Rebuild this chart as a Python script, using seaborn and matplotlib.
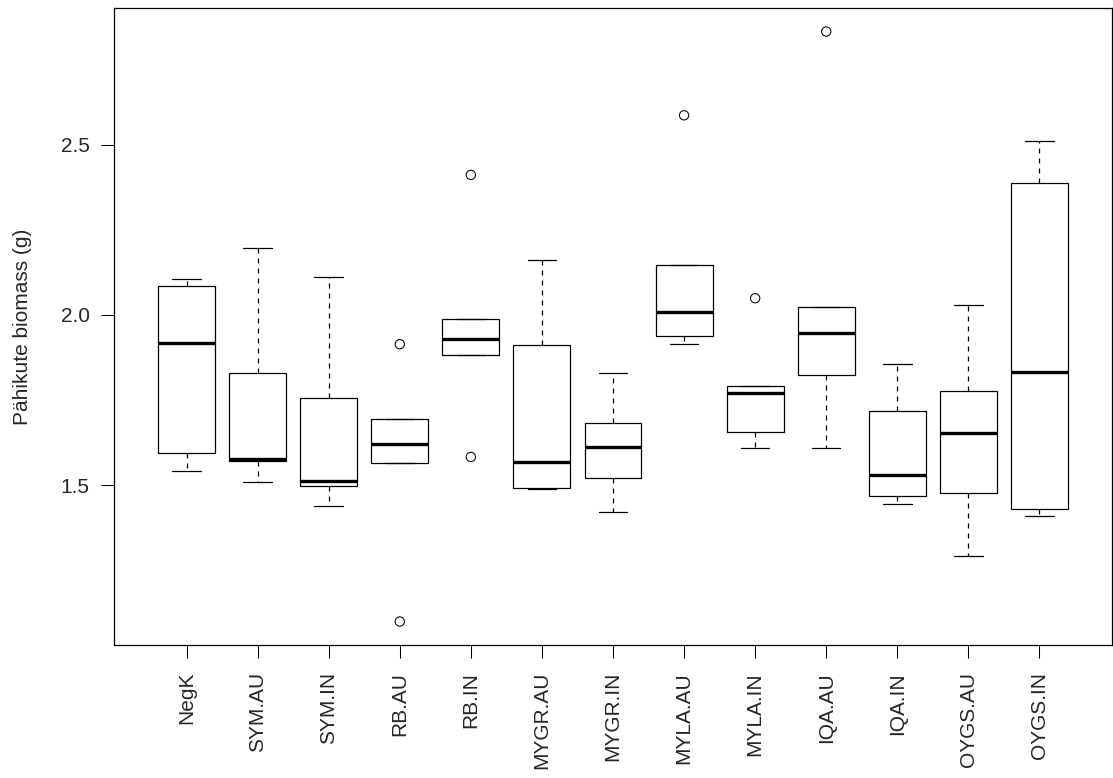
import numpy as np
import pandas as pd
import matplotlib
matplotlib.use("Agg")
import matplotlib.pyplot as plt
import seaborn as sns

# groups in plotting order
groups = ["NegK", "SYM.AU", "SYM.IN", "RB.AU", "RB.IN", "MYGR.AU", "MYGR.IN",
          "MYLA.AU", "MYLA.IN", "IQA.AU", "IQA.IN", "OYGS.AU", "OYGS.IN"]

# five-number summaries (whisker ends, hinges, median)
lower_whisker = [1.542, 1.509, 1.439, 1.566, 1.882, 1.490, 1.422,
                 1.914, 1.608, 1.608, 1.444, 1.292, 1.411]
lower_hinge = [1.594, 1.570, 1.497, 1.566, 1.882, 1.492, 1.521,
               1.939, 1.657, 1.824, 1.468, 1.476, 1.431]
medians = [1.919, 1.577, 1.513, 1.620, 1.928, 1.569, 1.611,
           2.009, 1.772, 1.948, 1.530, 1.653, 1.833]
upper_hinge = [2.086, 1.829, 1.755, 1.693, 1.987, 1.911, 1.684,
               2.148, 1.792, 2.024, 1.718, 1.778, 2.386]
upper_whisker = [2.104, 2.196, 2.111, 1.693, 1.987, 2.160, 1.829,
                 2.148, 1.792, 2.024, 1.857, 2.029, 2.512]

# outlying points
outlier_groups = ["RB.AU", "RB.AU", "RB.IN", "RB.IN", "MYLA.AU", "MYLA.IN", "IQA.AU"]
outlier_values = [1.914, 1.100, 2.411, 1.583, 2.586, 2.049, 2.832]

rows = []
for i, g in enumerate(groups):
    for v in (lower_whisker[i], lower_hinge[i], medians[i], upper_hinge[i], upper_whisker[i]):
        rows.append({"group": g, "value": v})
df = pd.DataFrame(rows)
out_df = pd.DataFrame({"group": outlier_groups, "value": outlier_values})

sns.set_theme(style="ticks")
plt.rcParams["font.family"] = ["Liberation Sans", "DejaVu Sans"]

fig, ax = plt.subplots(figsize=(11.13, 7.78), dpi=100)
fig.subplots_adjust(left=114 / 1113, right=1112 / 1113,
                    bottom=1 - 645 / 778, top=1 - 8 / 778)

sns.boxplot(data=df, x="group", y="value", order=groups, ax=ax,
            width=0.8, whis=np.inf, showfliers=False,
            color="white", linecolor="black", linewidth=0.9,
            boxprops=dict(facecolor="white", edgecolor="black"),
            medianprops=dict(color="black", linewidth=2.4),
            whiskerprops=dict(color="black", linestyle=(0, (4, 4))),
            capprops=dict(color="black"))

sns.stripplot(data=out_df, x="group", y="value", order=groups, ax=ax,
              jitter=False, size=6.7, marker="o", edgecolor="black",
              linewidth=0.75, facecolors="none", zorder=5)

ax.set_xlim(-1.02, 13.02)
ax.set_ylim(1.031, 2.901)
ax.set_yticks([1.5, 2.0, 2.5])
ax.set_yticklabels(["1.5", "2.0", "2.5"])
ax.set_xlabel("")
ax.set_ylabel("Pähikute biomass (g)", fontsize=15)
ax.yaxis.set_label_coords(-0.082, 0.5)

ax.tick_params(axis="x", labelrotation=90, length=9.4, width=0.75, pad=10,
               labelsize=15, color="black")
ax.tick_params(axis="y", length=9.4, width=0.75, pad=8, labelsize=15, color="black")
for lbl in ax.get_xticklabels():
    lbl.set_horizontalalignment("center")
    lbl.set_verticalalignment("top")

for sp in ax.spines.values():
    sp.set_visible(True)
    sp.set_color("black")
    sp.set_linewidth(0.9)

fig.savefig("out.png", dpi=100, facecolor="white")
